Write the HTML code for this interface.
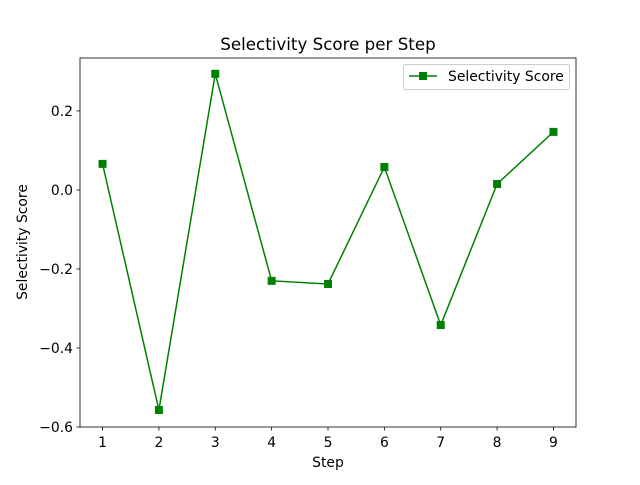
<!DOCTYPE html>
<html><head><meta charset="utf-8"><style>
body{margin:0;background:#fff;font-family:"Liberation Sans","DejaVu Sans",sans-serif}
svg text{font-family:"DejaVu Sans","Liberation Sans",sans-serif}
</style></head><body>
<svg id="chart" width="640" height="480">
<rect width="640" height="480" fill="#fff"/>
<g id="axes"></g>
</svg>
<script>
const steps=[1,2,3,4,5,6,7,8,9];
const scores=[0.066,-0.557,0.294,-0.230,-0.238,0.058,-0.342,0.015,0.147];
const yTicks=[-0.6,-0.4,-0.2,0.0,0.2];
const yTickLabels=["\u22120.6","\u22120.4","\u22120.2","0.0","0.2"];
const L=80,R=576,T=58,B=427,xmin=0.6,xmax=9.4,ymin=-0.6,ymax=0.334;
const X=v=>L+(v-xmin)/(xmax-xmin)*(R-L);
const Y=v=>B-(v-ymin)/(ymax-ymin)*(B-T);
const g=document.getElementById('axes');const NS='http://www.w3.org/2000/svg';
function mk(t,a,p){const e=document.createElementNS(NS,t);for(const k in a)e.setAttribute(k,a[k]);(p||g).appendChild(e);return e;}
steps.forEach(s=>{const x=X(s);
const t=mk('line',{x1:x,x2:x,y1:B,y2:B+3.5,stroke:'#000','stroke-width':0.8});


const l=mk('text',{x:x,y:B+20,'font-size':13.9,'text-anchor':'middle'});l.textContent=s;

});
yTicks.forEach((v,i)=>{const y=Y(v);
const t=mk('line',{x1:L-3.5,x2:L,y1:y,y2:y,stroke:'#000','stroke-width':0.8});


const l=mk('text',{x:L-7,y:y+5,'font-size':13.9,'text-anchor':'end'});l.textContent=yTickLabels[i];

});
const pts=steps.map((s,i)=>X(s)+','+Y(scores[i])).join(' ');
const pl=mk('polyline',{points:pts,fill:'none',stroke:'#008000','stroke-width':1.5});


steps.forEach((s,i)=>{const m=mk('rect',{x:X(s)-4,y:Y(scores[i])-4,width:8,height:8,fill:'#008000'});

});
const f=mk('rect',{x:L,y:T,width:R-L,height:B-T,fill:'none',stroke:'#000','stroke-width':0.8});


</script>
<svg width="640" height="480" style="position:absolute;left:0;top:0">
<text x="328" y="50" font-size="16.7" text-anchor="middle">Selectivity Score per Step</text>
<text x="328" y="467" font-size="13.9" text-anchor="middle">Step</text>
<text x="27" y="242" font-size="13.9" text-anchor="middle" transform="rotate(-90 27 242)">Selectivity Score</text>
<g>
<rect x="403.5" y="64.5" width="166" height="25" rx="2" fill="#fff" fill-opacity="0.8" stroke="#ccc"/>
<line x1="409" x2="437" y1="76" y2="76" stroke="#008000" stroke-width="1.5"/>
<rect x="419" y="72" width="8" height="8" fill="#008000"/>
<text x="448" y="81" font-size="13.9">Selectivity Score</text>
</g>
</svg>
</body></html>
